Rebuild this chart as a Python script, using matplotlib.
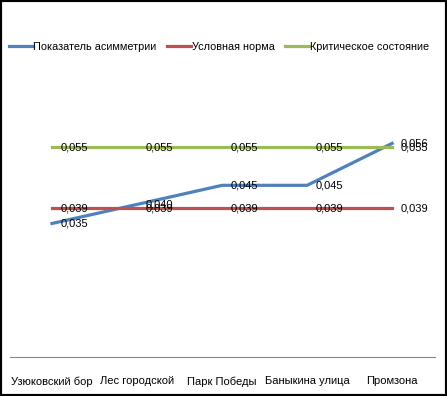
import matplotlib.pyplot as plt
from matplotlib.patches import Rectangle

plt.rcParams['font.family'] = ['Liberation Sans', 'DejaVu Sans']

places = ["Узюковский бор", "Лес городской", "Парк Победы", "Баныкина улица", "Промзона"]
asym = [0.035, 0.040, 0.045, 0.045, 0.056]
norma = [0.039, 0.039, 0.039, 0.039, 0.039]
krit = [0.055, 0.055, 0.055, 0.055, 0.055]

names = ["Показатель асимметрии", "Условная норма", "Критическое состояние"]
colors = ["#4F81BD", "#C0504D", "#9BBB59"]

fig = plt.figure(figsize=(4.47, 3.96), dpi=100)
ax = fig.add_axes([0.0213, 0.0985, 0.951, 0.578])

x = list(range(len(places)))
for vals, name, col in zip([asym, norma, krit], names, colors):
    ax.plot(x, vals, color=col, lw=2.3, label=name)
    for xi, v in zip(x, vals):
        ax.annotate(("%.3f" % v).replace(".", ","), (xi, v), xytext=(6, 0),
                    textcoords="offset points", va="center", ha="left", fontsize=8)

ax.set_xlim(-0.5, len(places) - 0.5)
ax.set_ylim(0, 0.06)
ax.set_xticks(x)
ax.set_xticklabels(places, fontsize=8)
ax.tick_params(axis="x", length=0, pad=14)
ax.set_yticks([])
for s in ["top", "right", "left"]:
    ax.spines[s].set_visible(False)
ax.spines["bottom"].set_color("#868686")

fig.legend(loc="center left", bbox_to_anchor=(0.0, 0.881), ncol=3, frameon=False,
           fontsize=7.8, handlelength=2.2, handletextpad=0.05, columnspacing=1.0,
           borderaxespad=0.4)

fig.patches.append(Rectangle((0, 0), 1, 1, transform=fig.transFigure, fill=False,
                             edgecolor="black", lw=3))

fig.savefig("out.png", dpi=100)
